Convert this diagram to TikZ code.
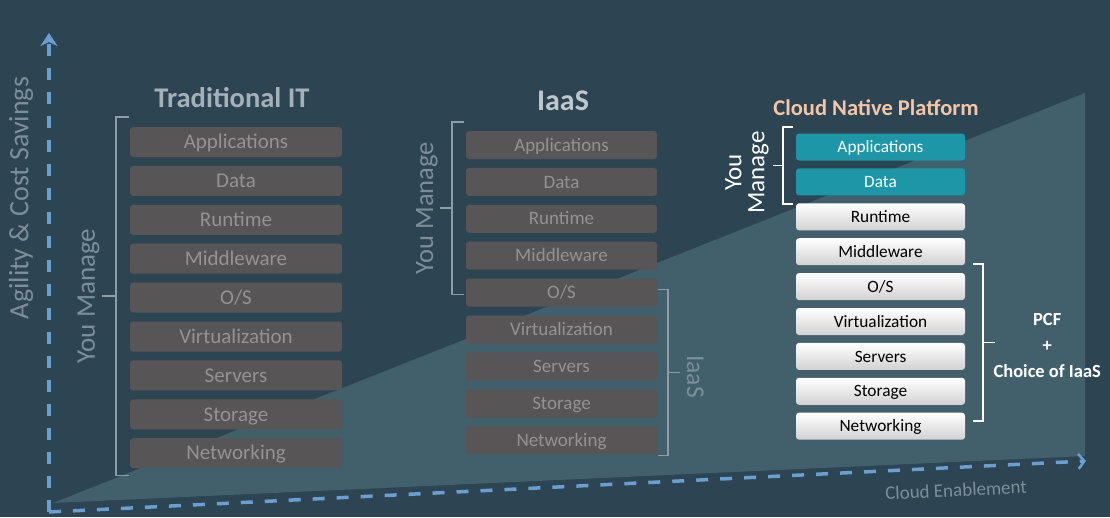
\documentclass[tikz,border=0pt]{standalone}
\usepackage{fontspec}
\setmainfont{Carlito}
\definecolor{bgslate}{HTML}{2D4452}
\definecolor{trifill}{HTML}{42606C}
\definecolor{oldbox}{HTML}{575555}
\definecolor{oldtext}{HTML}{939393}
\definecolor{oldtitle}{HTML}{A5B0B8}
\definecolor{iaastitle}{HTML}{C0C8CD}
\definecolor{axisblue}{HTML}{6A9FD2}
\definecolor{axistext}{HTML}{7C8E9A}
\definecolor{brkgray}{HTML}{8E9CA5}
\definecolor{cnpteal}{HTML}{1D97A7}
\definecolor{cnppeach}{HTML}{F3C7A6}
\usetikzlibrary{arrows.meta,positioning,calc}

\begin{document}
\begin{tikzpicture}[
  x=1pt, y=-1pt,
  stackbox/.style={rounded corners=3pt, inner sep=1pt},
  oldlayer/.style={stackbox, fill=oldbox, text=oldtext},
  tradbox/.style={oldlayer, minimum width=212pt, minimum height=30pt,
    text height=15pt, text depth=1.5pt, font=\fontsize{21}{24}\selectfont},
  iaasbox/.style={oldlayer, minimum width=191pt, minimum height=28pt,
    text height=13.5pt, text depth=1.3pt, font=\fontsize{19}{22}\selectfont},
  cnpbox/.style={stackbox, minimum width=169pt, minimum height=27pt,
    text height=12.5pt, text depth=1.2pt, font=\fontsize{17.3}{20}\selectfont},
  ownlayer/.style={cnpbox, fill=cnpteal, text=white},
  pcflayer/.style={cnpbox, top color=white, bottom color=black!18, text=black},
  brk/.style={draw=brkgray, line width=1.6pt},
  cnpbrk/.style={draw=white, line width=1.8pt},
  axis/.style={draw=axisblue, line width=3.5pt, dash pattern=on 12pt off 12pt},
  sidelabel/.style={text=axistext, inner sep=2pt, font=\fontsize{27}{30}\selectfont}
]
  % Background and the lighter wedge
  \useasboundingbox (0,0) rectangle (1110,517);
  \fill[bgslate] (0,0) rectangle (1110,517);
  \fill[trifill] (53,503) -- (1085,93) -- (1085,456) -- cycle;

  % Axes
  \coordinate (origin) at (49,512);
  \coordinate (yend) at (49,33);
  \coordinate (xend) at (1086,461);
  \draw[axis, -{Stealth[length=13pt, width=17pt, inset=4pt, line width=0.5pt]}] (origin) -- (yend);
  \draw[axis, -{Straight Barb[length=6pt, width=15pt, line width=2.5pt]}] (origin) -- (xend);
  \node[text=axistext, rotate=90, font=\fontsize{28}{30}\selectfont] (yaxis) at (21,198)
    {Agility \& Cost Savings};
  \node[text=axistext, rotate=2.8, font=\fontsize{19}{22}\selectfont] (xaxis) at (956,490)
    {Cloud Enablement};

  % Traditional IT stack
  \node[font=\bfseries\fontsize{28.5}{30}\selectfont, text=oldtitle] (ttitle) at (232,98)
    {Traditional IT};
  \node[tradbox] (tapp) at (236,142) {Applications};
  \node[tradbox, below=8.5pt of tapp] (tdata) {Data};
  \node[tradbox, below=8.5pt of tdata] (trun) {Runtime};
  \node[tradbox, below=8.5pt of trun] (tmid) {Middleware};
  \node[tradbox, below=8.5pt of tmid] (tos) {O/S};
  \node[tradbox, below=8.5pt of tos] (tvirt) {Virtualization};
  \node[tradbox, below=8.5pt of tvirt] (tserv) {Servers};
  \node[tradbox, below=8.5pt of tserv] (tstor) {Storage};
  \node[tradbox, below=8.5pt of tstor] (tnet) {Networking};

  \coordinate (tb1) at ([xshift=-1pt, yshift=10pt]tapp.north west);
  \coordinate (tb2) at ([xshift=-1pt, yshift=-7pt]tnet.south west);
  \draw[brk] (tb1) -- ++(-13pt,0pt) |- (tb2);
  \draw[brk] ($(tb1)!.5!(tb2)+(-13pt,0pt)$) -- ++(-14pt,0pt) coordinate (tbt);
  \node[sidelabel, rotate=90, anchor=south] (tym) at (tbt) {You Manage};

  % IaaS stack
  \node[font=\bfseries\fontsize{30}{32}\selectfont, text=iaastitle] (ititle) at (563,101)
    {IaaS};
  \node[iaasbox] (iapp) at (561.5,145) {Applications};
  \node[iaasbox, below=8.5pt of iapp] (idata) {Data};
  \node[iaasbox, below=8.5pt of idata] (irun) {Runtime};
  \node[iaasbox, below=8.5pt of irun] (imid) {Middleware};
  \node[iaasbox, below=8.5pt of imid] (ios) {O/S};
  \node[iaasbox, below=8.5pt of ios] (ivirt) {Virtualization};
  \node[iaasbox, below=8.5pt of ivirt] (iserv) {Servers};
  \node[iaasbox, below=8.5pt of iserv] (istor) {Storage};
  \node[iaasbox, below=8.5pt of istor] (inet) {Networking};

  \coordinate (ib1) at ([xshift=-2pt, yshift=9pt]iapp.north west);
  \coordinate (ib2) at ([xshift=-2pt, yshift=-2pt]ios.west);
  \draw[brk] (ib1) -- ++(-12pt,0pt) |- (ib2);
  \draw[brk] ($(ib1)!.5!(ib2)+(-12pt,0pt)$) -- ++(-12pt,0pt) coordinate (ibt);
  \node[sidelabel, rotate=90, anchor=south, font=\fontsize{26.5}{30}\selectfont] (iym) at (ibt)
    {You Manage};

  \coordinate (ir1) at ([xshift=1pt, yshift=3pt]ios.east);
  \coordinate (ir2) at ([xshift=1pt, yshift=-1pt]inet.south east);
  \draw[brk] (ir1) -- ++(10pt,0pt) |- (ir2);
  \draw[brk] ($(ir1)!.5!(ir2)+(10pt,0pt)$) -- ++(12pt,0pt) coordinate (irt);
  \node[sidelabel, rotate=-90, anchor=base, font=\fontsize{25.5}{30}\selectfont] (iprov)
    at ([xshift=7pt, yshift=-4pt]irt) {IaaS};

  % Cloud Native Platform stack
  \node[font=\bfseries\fontsize{22.5}{26}\selectfont, text=cnppeach] (ctitle) at (876,108)
    {Cloud Native Platform};
  \node[ownlayer] (capp) at (880.5,147) {Applications};
  \node[ownlayer, below=7.5pt of capp] (cdata) {Data};
  \node[pcflayer, below=7.5pt of cdata] (crun) {Runtime};
  \node[pcflayer, below=7.5pt of crun] (cmid) {Middleware};
  \node[pcflayer, below=7.5pt of cmid] (cos) {O/S};
  \node[pcflayer, below=7.5pt of cos] (cvirt) {Virtualization};
  \node[pcflayer, below=7.5pt of cvirt] (cserv) {Servers};
  \node[pcflayer, below=7.5pt of cserv] (cstor) {Storage};
  \node[pcflayer, below=7.5pt of cstor] (cnet) {Networking};

  \coordinate (cb1) at ([xshift=-3pt, yshift=6pt]capp.north west);
  \coordinate (cb2) at ([xshift=-3pt, yshift=-8pt]cdata.south west);
  \draw[cnpbrk] (cb1) -- ++(-10pt,0pt) |- (cb2);
  \draw[cnpbrk] ($(cb1)!.5!(cb2)+(-10pt,0pt)$) -- ++(-10pt,0pt) coordinate (cbt);
  \node[sidelabel, text=white, rotate=90, anchor=south, align=center,
    font=\fontsize{25}{23}\selectfont] (cym) at ([xshift=-2pt, yshift=-7pt]cbt) {You\\Manage};

  \coordinate (cr1) at ([xshift=8pt, yshift=9pt]cos.north east);
  \coordinate (cr2) at ([xshift=8pt, yshift=5pt]cnet.east);
  \draw[cnpbrk] (cr1) -- ++(10pt,0pt) |- (cr2);
  \draw[cnpbrk] ($(cr1)!.5!(cr2)+(10pt,0pt)$) -- ++(12pt,0pt) coordinate (crt);
  \node[text=white, align=center, font=\bfseries\fontsize{18.5}{26}\selectfont] (pcf)
    at ([xshift=52pt, yshift=-3pt]crt) {PCF\\+\\Choice of IaaS};
\end{tikzpicture}
\end{document}
